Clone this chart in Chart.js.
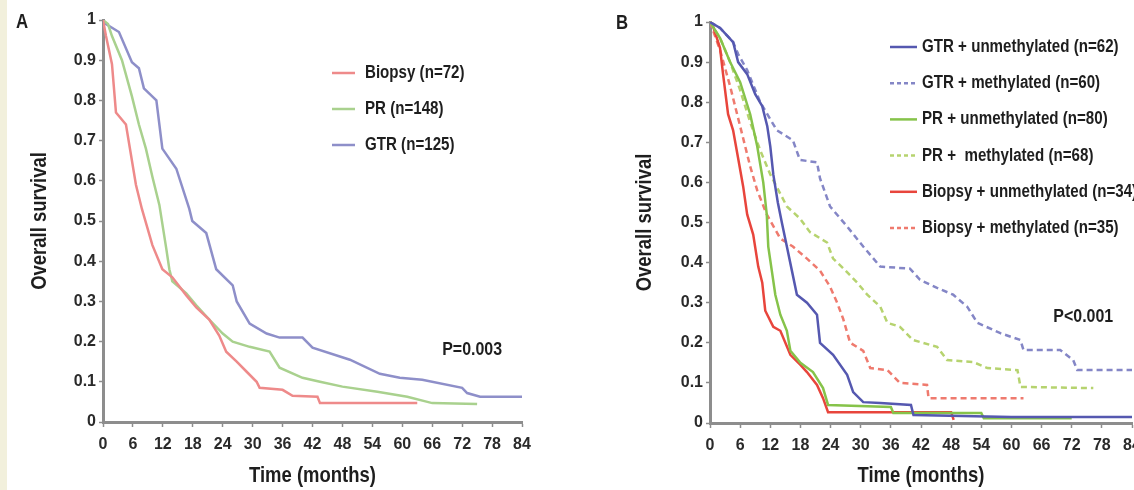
<!DOCTYPE html>
<html>
<head>
<meta charset="utf-8">
<script src="https://cdn.jsdelivr.net/npm/chart.js@4.4.1/dist/chart.umd.min.js"></script>
<style>
  html, body { margin: 0; padding: 0; background: #fff; overflow: hidden; width: 1134px; height: 490px; }
  .panel { position: absolute; top: 0; height: 490px; }
  #panelA { left: 0; width: 560px; }
  #panelB { left: 600px; width: 600px; }
  #strip { position: absolute; left: 0; top: 0; width: 7px; height: 490px; background: #f2f0dc; }
</style>
</head>
<body>
<div class="panel" id="panelA"><canvas id="chartA"></canvas></div>
<div class="panel" id="panelB"><canvas id="chartB"></canvas></div>
<div id="strip"></div>
<script>
const FONT = "'Liberation Sans', Arial, sans-serif";
const SQUEEZE = 0.84; // the figure uses a narrow face, we squeeze a normal one

const xTicks = [0, 6, 12, 18, 24, 30, 36, 42, 48, 54, 60, 66, 72, 78, 84];
const yTicks = [0, 0.1, 0.2, 0.3, 0.4, 0.5, 0.6, 0.7, 0.8, 0.9, 1];
const yTickLabels = ["0", "0.1", "0.2", "0.3", "0.4", "0.5", "0.6", "0.7", "0.8", "0.9", "1"];

// -------- panel A : extent of resection --------
const labelsA = ["Biopsy (n=72)", "PR (n=148)", "GTR (n=125)"];

const monthsA_biopsy = [0, 0.6, 1.8, 2.6, 4.6, 6.6, 7.8, 9.9, 11.9, 13.9, 16.7, 18.7, 21.3, 23.3, 24.7, 26.8, 28.8, 30.8, 31.4, 36, 38, 43, 43.5, 63];
const survA_biopsy = [1, 0.96, 0.89, 0.77, 0.74, 0.59, 0.53, 0.44, 0.38, 0.36, 0.315, 0.285, 0.255, 0.215, 0.175, 0.15, 0.125, 0.1, 0.085, 0.08, 0.065, 0.063, 0.047, 0.047];

const monthsA_pr = [0, 1, 1.8, 3.8, 5.8, 7.2, 8.6, 9.9, 11.3, 12.7, 13.3, 13.9, 16.7, 18.7, 21.3, 24, 26, 29.4, 33.4, 35.4, 40, 43.5, 48, 55, 61, 66, 75];
const survA_pr = [1, 0.99, 0.96, 0.9, 0.81, 0.74, 0.68, 0.61, 0.54, 0.43, 0.38, 0.35, 0.32, 0.29, 0.255, 0.22, 0.2, 0.187, 0.175, 0.135, 0.11, 0.1, 0.088, 0.075, 0.063, 0.047, 0.045];

const monthsA_gtr = [0, 0.6, 3.2, 5.8, 7.2, 8.2, 10.7, 11.9, 14.7, 17.3, 17.9, 20.7, 22.7, 26, 26.8, 29.4, 32.8, 35.4, 40, 42, 49.5, 55.5, 59.5, 64, 72, 73, 75.6, 84];
const survA_gtr = [1, 0.99, 0.97, 0.895, 0.88, 0.83, 0.8, 0.68, 0.63, 0.53, 0.5, 0.47, 0.38, 0.34, 0.3, 0.245, 0.22, 0.21, 0.21, 0.185, 0.155, 0.12, 0.11, 0.105, 0.085, 0.072, 0.063, 0.063];

// -------- panel B : resection + MGMT status --------
const labelsB = [
  "GTR + unmethylated (n=62)",
  "GTR + methylated (n=60)",
  "PR + unmethylated (n=80)",
  "PR +  methylated (n=68)",
  "Biopsy + unmethylated (n=34)",
  "Biopsy + methylated (n=35)",
];

const monthsB_gtrU = [0, 2, 4.6, 5.6, 7.4, 9, 10.4, 11.4, 12, 12.6, 13.5, 14.3, 15.3, 16.3, 17.3, 19.3, 21.3, 21.9, 24.5, 27.3, 28.5, 30.5, 33.9, 40, 40.5, 60, 84];
const survB_gtrU = [1, 0.985, 0.95, 0.9, 0.87, 0.82, 0.79, 0.74, 0.69, 0.62, 0.55, 0.5, 0.44, 0.38, 0.32, 0.3, 0.27, 0.2, 0.17, 0.12, 0.077, 0.052, 0.05, 0.045, 0.02, 0.015, 0.015];

const monthsB_gtrM = [0, 2, 4.6, 5.6, 7.4, 10, 13.3, 16.5, 17.9, 21.3, 21.9, 23.9, 27.3, 30.5, 33.9, 39.8, 41.8, 45.2, 48.4, 51.2, 53.2, 57.8, 61.8, 62.4, 69.7, 72.3, 73.1, 84];
const survB_gtrM = [1, 0.985, 0.95, 0.92, 0.88, 0.8, 0.73, 0.705, 0.656, 0.65, 0.61, 0.54, 0.49, 0.44, 0.39, 0.385, 0.357, 0.337, 0.32, 0.29, 0.25, 0.224, 0.207, 0.182, 0.182, 0.157, 0.132, 0.132];

const monthsB_prU = [0, 2, 4, 6, 8, 9.4, 10.6, 11.3, 11.6, 12.3, 13, 14, 15.3, 16, 18, 20.5, 22.5, 23.5, 36, 36.5, 54, 54.5, 72];
const survB_prU = [1, 0.96, 0.9, 0.85, 0.77, 0.69, 0.6, 0.52, 0.44, 0.38, 0.32, 0.27, 0.23, 0.18, 0.15, 0.127, 0.087, 0.045, 0.04, 0.025, 0.025, 0.012, 0.012];

const monthsB_prM = [0, 2, 4, 6, 8, 10, 12, 15.3, 17.9, 19.9, 23.3, 24.5, 26.5, 29.3, 31.3, 33.9, 35.3, 37.8, 40.4, 45.2, 47.2, 52.4, 55.2, 61.2, 61.8, 76.3];
const survB_prM = [1, 0.96, 0.9, 0.83, 0.75, 0.68, 0.62, 0.54, 0.51, 0.476, 0.45, 0.41, 0.386, 0.35, 0.32, 0.29, 0.25, 0.24, 0.207, 0.19, 0.157, 0.152, 0.137, 0.132, 0.09, 0.087];

const monthsB_bxU = [0, 0.6, 2, 2.6, 3.6, 4.6, 5.6, 6.6, 7.4, 8.6, 9.6, 10.4, 11, 12.6, 14, 16, 18, 19.3, 21.3, 22.5, 23.5, 48, 48.5];
const survB_bxU = [1, 0.99, 0.935, 0.87, 0.77, 0.73, 0.66, 0.59, 0.52, 0.47, 0.39, 0.35, 0.28, 0.24, 0.23, 0.17, 0.145, 0.127, 0.095, 0.062, 0.027, 0.027, 0.008];

const monthsB_bxM = [0, 2, 4, 6, 8, 9.4, 11.3, 14, 16.5, 19.3, 21.9, 23.9, 25.3, 26.5, 27.9, 30.5, 31.9, 35.3, 37.8, 43.2, 43.5, 62.4];
const survB_bxM = [1, 0.93, 0.84, 0.74, 0.64, 0.58, 0.52, 0.46, 0.44, 0.41, 0.38, 0.34, 0.3, 0.26, 0.2, 0.18, 0.137, 0.132, 0.1, 0.095, 0.062, 0.062];

function pts(months, surv) {
  return months.map((m, i) => ({ x: m, y: surv[i] }));
}

function curve(label, months, surv, color, dashed) {
  return {
    label,
    data: pts(months, surv),
    borderColor: color,
    backgroundColor: color,
    borderWidth: 2.5,
    borderDash: dashed ? [6, 4] : [],
    pointRadius: 0,
    tension: 0,
    fill: false,
  };
}

// narrow-looking text: normal face squeezed horizontally
function narrowText(ctx, text, x, y, size, align, rotate) {
  ctx.save();
  ctx.translate(x, y);
  if (rotate) ctx.rotate(-Math.PI / 2);
  ctx.scale(SQUEEZE, 1);
  ctx.font = `bold ${size}px ${FONT}`;
  ctx.textAlign = align;
  ctx.textBaseline = "middle";
  ctx.fillText(text, 0, 0);
  ctx.restore();
}

// panel letter, axis titles, legend box and p-value
const decorPlugin = {
  id: "decor",
  afterDraw(chart, args, o) {
    const ctx = chart.ctx;
    const area = chart.chartArea;
    const sx = chart.scales.x;
    const sy = chart.scales.y;
    ctx.save();
    ctx.fillStyle = "#1e1e1e";

    narrowText(ctx, o.letter, o.letterX, o.letterY, 20, "center");
    narrowText(ctx, "Time (months)", (area.left + area.right) / 2, o.xTitleY, 22, "center");
    narrowText(ctx, "Overall survival", o.yTitleX, (area.top + area.bottom) / 2, 22, "center", true);

    chart.data.datasets.forEach((ds, i) => {
      const y = o.legendY + i * o.legendGap;
      ctx.strokeStyle = ds.borderColor;
      ctx.lineWidth = ds.borderWidth;
      ctx.setLineDash(ds.borderDash.length ? [4, 3] : []);
      ctx.beginPath();
      ctx.moveTo(o.legendX, y);
      ctx.lineTo(o.legendX + o.swatch, y);
      ctx.stroke();
      ctx.setLineDash([]);
      narrowText(ctx, ds.label, o.legendX + o.swatch + o.textGap, y, o.legendFont, "left");
    });

    narrowText(ctx, o.pText, sx.getPixelForValue(o.pAt[0]), sy.getPixelForValue(o.pAt[1]), 19, "center");
    ctx.restore();
  },
};

function makeChart(id, datasets, lay, decor) {
  const axisGray = "#8d8d8d";
  return new Chart(document.getElementById(id), {
    type: "line",
    data: { datasets },
    plugins: [decorPlugin],
    options: {
      responsive: true,
      maintainAspectRatio: false,
      animation: false,
      layout: { padding: { top: lay.top, right: lay.right, left: 0, bottom: 0 } },
      plugins: {
        legend: { display: false },
        tooltip: { enabled: false },
        decor,
      },
      scales: {
        x: {
          type: "linear",
          min: 0,
          max: 84,
          afterBuildTicks: (s) => { s.ticks = xTicks.map((v) => ({ value: v })); },
          afterFit: (s) => { s.height = lay.xHeight; },
          ticks: {
            color: "#2a2a2a",
            font: { family: FONT, size: 16, weight: "bold" },
            padding: 8,
            maxRotation: 0,
            autoSkip: false,
            callback: (v) => String(v),
          },
          grid: { display: true, drawOnChartArea: false, tickLength: 5, tickColor: axisGray, tickWidth: 1.5 },
          border: { display: true, color: axisGray, width: 3 },
        },
        y: {
          min: 0,
          max: 1,
          afterBuildTicks: (s) => { s.ticks = yTicks.map((v) => ({ value: v })); },
          afterFit: (s) => { s.width = lay.yWidth; },
          ticks: {
            color: "#2a2a2a",
            font: { family: FONT, size: 16, weight: "bold" },
            padding: 3,
            callback: (v, i) => yTickLabels[i],
          },
          grid: { display: true, drawOnChartArea: false, tickLength: 4, tickColor: axisGray, tickWidth: 1.5 },
          border: { display: true, color: axisGray, width: 3 },
        },
      },
    },
  });
}

makeChart(
  "chartA",
  [
    curve(labelsA[0], monthsA_biopsy, survA_biopsy, "#ee8a8a", false),
    curve(labelsA[1], monthsA_pr, survA_pr, "#a9d18e", false),
    curve(labelsA[2], monthsA_gtr, survA_gtr, "#8e8fc9", false),
  ],
  { top: 20, right: 38, xHeight: 68, yWidth: 103 },
  {
    letter: "A", letterX: 22, letterY: 22, xTitleY: 476, yTitleX: 40,
    legendX: 332, legendY: 73, legendGap: 36, swatch: 23, textGap: 10, legendFont: 18,
    pText: "P=0.003", pAt: [74, 0.18],
  }
);

makeChart(
  "chartB",
  [
    curve(labelsB[0], monthsB_gtrU, survB_gtrU, "#5558b0", false),
    curve(labelsB[1], monthsB_gtrM, survB_gtrM, "#8486c6", true),
    curve(labelsB[2], monthsB_prU, survB_prU, "#86c34a", false),
    curve(labelsB[3], monthsB_prM, survB_prM, "#b6d36f", true),
    curve(labelsB[4], monthsB_bxU, survB_bxU, "#e8453c", false),
    curve(labelsB[5], monthsB_bxM, survB_bxM, "#ef7a6e", true),
  ],
  { top: 22, right: 68, xHeight: 67, yWidth: 110 },
  {
    letter: "B", letterX: 22, letterY: 23, xTitleY: 476, yTitleX: 45,
    legendX: 290, legendY: 47, legendGap: 36.2, swatch: 27, textGap: 5, legendFont: 18,
    pText: "P<0.001", pAt: [74.3, 0.264],
  }
);
</script>
</body>
</html>
